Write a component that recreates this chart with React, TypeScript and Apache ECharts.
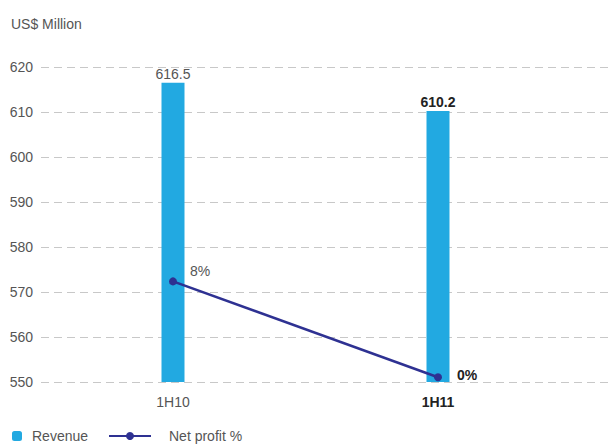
import React, { useEffect, useRef } from "react";
import * as echarts from "echarts";

const categories = ["1H10", "1H11"];
const revenue = [616.5, 610.2];
const netProfit = [8, 0];
const yTicks = [550, 560, 570, 580, 590, 600, 610, 620];

export default function App() {
  const ref = useRef<HTMLDivElement>(null);
  useEffect(() => {
    if (!ref.current) return;
    const chart = echarts.init(ref.current, undefined, { renderer: "svg" });
    const font = "Liberation Sans, Arial, sans-serif";
    chart.setOption({
      animation: false,
      title: {
        text: "US$ Million",
        left: 6,
        top: 12,
        textStyle: { fontSize: 14, fontWeight: "normal", color: "#555", fontFamily: font },
      },
      legend: [
        {
          data: ["Revenue"],
          left: 12,
          top: 429,
          padding: 0,
          itemWidth: 10,
          itemHeight: 10,
          itemGap: 10,
          textStyle: { fontSize: 14, color: "#555", fontFamily: font, padding: [0, 0, 0, 5] },
        },
        {
          data: ["Net profit %"],
          left: 108,
          top: 429,
          padding: 0,
          itemWidth: 42,
          itemHeight: 10,
          textStyle: { fontSize: 14, color: "#555", fontFamily: font, padding: [0, 0, 0, 13] },
        },
      ],
      grid: [
        { left: 41, right: 0, top: 67, bottom: 62 },
        { left: 40.5, right: 37.5, top: 67, bottom: 62 },
      ],
      xAxis: [
        { type: "value", gridIndex: 0, show: false, min: 0, max: 1 },
        {
          type: "category",
          gridIndex: 1,
          data: categories.map((c, i) =>
            i === 1
              ? { value: c, textStyle: { fontWeight: "bold", color: "#222" } }
              : c
          ),
          axisLine: { show: false },
          axisTick: { show: false },
          axisLabel: { fontSize: 14, color: "#555", fontFamily: font, margin: 13 },
        },
      ],
      yAxis: [
        {
          type: "value",
          gridIndex: 0,
          min: yTicks[0],
          max: yTicks[yTicks.length - 1],
          interval: 10,
          axisLine: { show: false },
          axisTick: { show: false },
          axisLabel: { fontSize: 14, color: "#555", fontFamily: font, margin: 8 },
          splitLine: { lineStyle: { color: "#c8c8c8", type: [8, 5], width: 1 } },
        },
        {
          type: "value",
          gridIndex: 1,
          min: yTicks[0],
          max: yTicks[yTicks.length - 1],
          show: false,
          splitLine: { show: false },
        },
        {
          type: "value",
          gridIndex: 1,
          min: -0.4,
          max: 25.9,
          show: false,
          splitLine: { show: false },
        },
      ],
      series: [
        {
          name: "Revenue",
          type: "bar",
          xAxisIndex: 1,
          yAxisIndex: 1,
          barWidth: 23,
          itemStyle: { color: "#22a9e1" },
          data: revenue.map((v, i) => ({
            value: v,
            label: {
              show: true,
              position: "top",
              distance: 2,
              fontSize: 14,
              fontFamily: font,
              color: i === 1 ? "#222" : "#555",
              fontWeight: i === 1 ? "bold" : "normal",
            },
          })),
        },
        {
          name: "Net profit %",
          type: "line",
          xAxisIndex: 1,
          yAxisIndex: 2,
          symbol: "circle",
          symbolSize: 8,
          lineStyle: { color: "#2e3192", width: 2.5 },
          itemStyle: { color: "#2e3192" },
          data: netProfit.map((v, i) => ({
            value: v,
            label: {
              show: true,
              position: i === 0 ? [21, -13] : [23, -5],
              formatter: "{c}%",
              fontSize: 14,
              fontFamily: font,
              color: i === 1 ? "#222" : "#555",
              fontWeight: i === 1 ? "bold" : "normal",
            },
          })),
        },
      ],
    });
    return () => chart.dispose();
  }, []);
  return <div ref={ref} style={{ width: 608, height: 444, position: "absolute", left: 0, top: 0 }} />;
}
